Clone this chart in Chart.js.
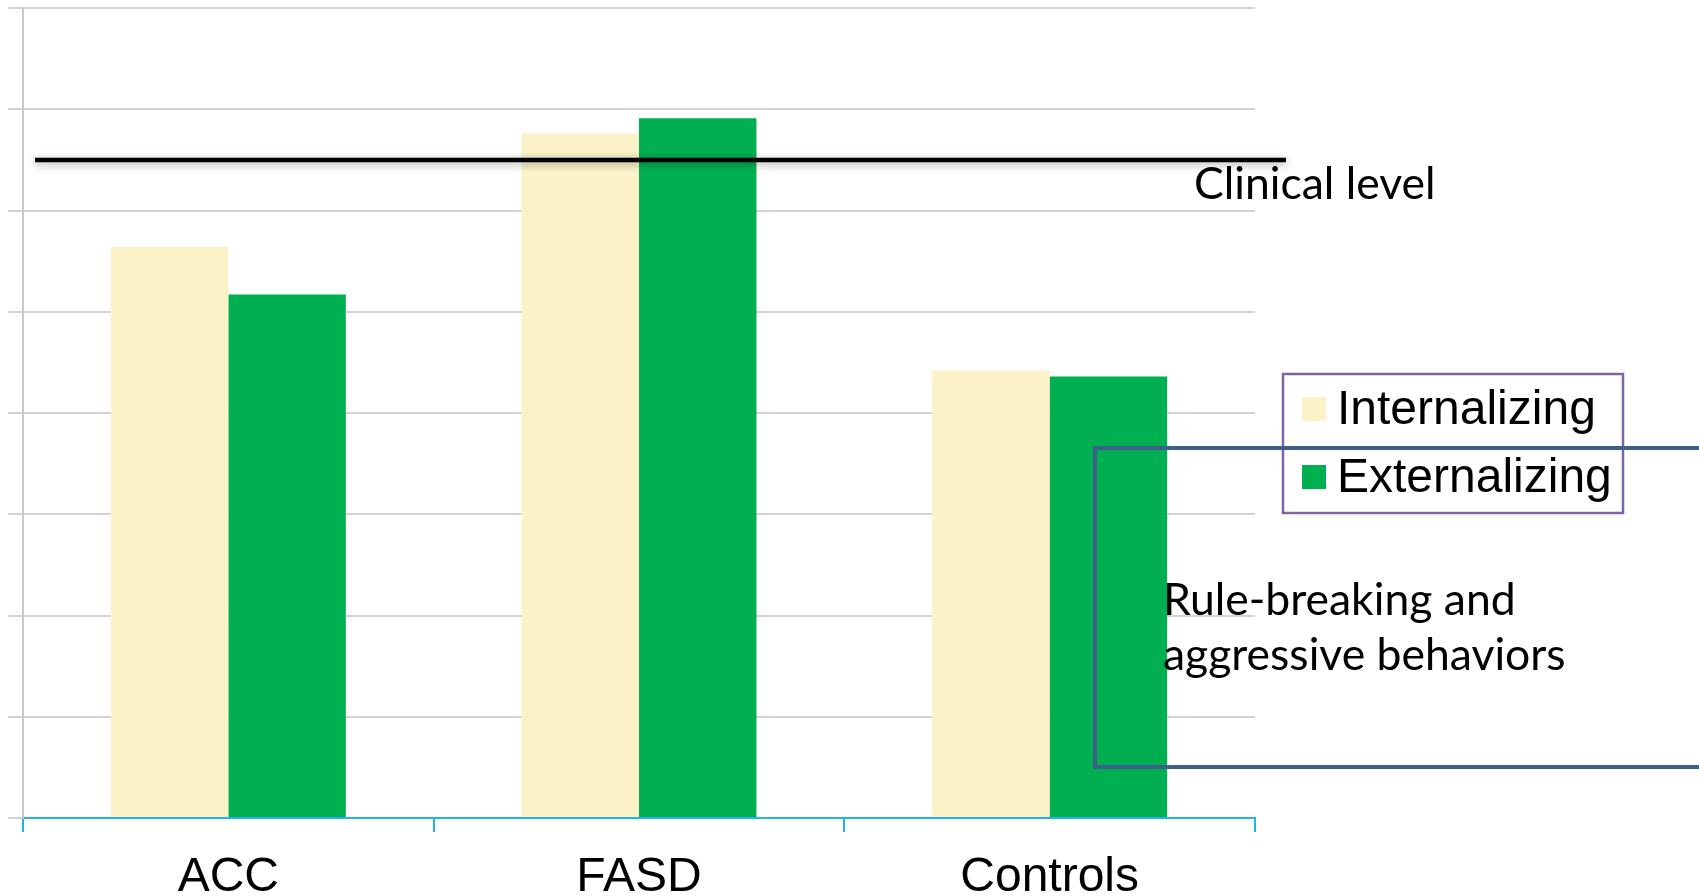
<!DOCTYPE html>
<html>
<head>
<meta charset="utf-8">
<script src="https://cdn.jsdelivr.net/npm/chart.js@4.4.1/dist/chart.umd.min.js"></script>
<style>
  html, body { margin: 0; padding: 0; background: #ffffff; }
  #wrap { width: 1699px; height: 896px; position: relative; }
</style>
</head>
<body>
<div id="wrap"><canvas id="chart"></canvas></div>
<script>
// Mean problem scores per group
const categories = ['ACC', 'FASD', 'Controls'];
const internalizing = [56.4, 67.6, 44.2];
const externalizing = [51.7, 69.1, 43.6];
const seriesLabels = ['Internalizing', 'Externalizing'];
const clinicalLevel = 65;
const clinicalLabel = 'Clinical level';
const noteLines = ['Rule-breaking and', 'aggressive behaviors'];
const yMin = 0, yMax = 80, yStep = 10;

const creamFill = '#FBF3C7';
const greenFill = '#00B050';
const noteFont = 'Lato, "Open Sans", sans-serif';

// Overlays: clinical threshold line, its caption, the legend box and the callout frame
const overlays = {
  id: 'overlays',
  afterDraw(chart) {
    const ctx = chart.ctx;
    const y = chart.scales.y.getPixelForValue(clinicalLevel);

    // threshold line with a soft shadow
    ctx.save();
    ctx.shadowColor = 'rgba(0,0,0,0.38)';
    ctx.shadowBlur = 9;
    ctx.shadowOffsetY = 2;
    ctx.strokeStyle = '#000000';
    ctx.lineWidth = 4.5;
    ctx.beginPath();
    ctx.moveTo(35, y);
    ctx.lineTo(1286, y);
    ctx.stroke();
    ctx.restore();

    ctx.save();
    ctx.fillStyle = '#000000';
    ctx.textBaseline = 'alphabetic';
    ctx.textAlign = 'left';
    ctx.font = '44.5px ' + noteFont;
    ctx.fillText(clinicalLabel, 1194, y + 39);
    ctx.restore();

    // legend
    ctx.save();
    ctx.strokeStyle = '#8064A2';
    ctx.lineWidth = 2.5;
    ctx.strokeRect(1283, 374, 340, 139);
    ctx.font = '48px "Liberation Sans", Arial, sans-serif';
    ctx.textBaseline = 'alphabetic';
    chart.data.datasets.forEach((ds, i) => {
      const rowY = 397 + i * 68;
      ctx.fillStyle = ds.backgroundColor;
      ctx.fillRect(1302, rowY, 24, 24);
      ctx.fillStyle = '#000000';
      ctx.fillText(ds.label, 1337, rowY + 27);
    });
    ctx.restore();

    // callout frame running off the right edge
    ctx.save();
    ctx.strokeStyle = '#3E5E8B';
    ctx.lineWidth = 4;
    ctx.strokeRect(1095, 448, 700, 319);
    ctx.fillStyle = '#000000';
    ctx.font = '44.5px ' + noteFont;
    ctx.textBaseline = 'alphabetic';
    noteLines.forEach((t, i) => ctx.fillText(t, 1163, 615 + i * 55));
    ctx.restore();
  }
};

new Chart(document.getElementById('chart'), {
  type: 'bar',
  data: {
    labels: categories,
    datasets: [
      { label: seriesLabels[0], data: internalizing, backgroundColor: creamFill,
        borderWidth: 0, categoryPercentage: 0.572, barPercentage: 1.0 },
      { label: seriesLabels[1], data: externalizing, backgroundColor: greenFill,
        borderWidth: 0, categoryPercentage: 0.572, barPercentage: 1.0 }
    ]
  },
  options: {
    responsive: true,
    maintainAspectRatio: false,
    animation: false,
    layout: { padding: { left: 8, top: 8, right: 444, bottom: 0 } },
    plugins: {
      legend: { display: false },
      tooltip: { enabled: false },
      title: { display: false }
    },
    scales: {
      x: {
        z: 1,
        grid: { display: true, drawOnChartArea: false, drawTicks: true, tickLength: 14,
                color: '#1FB4EC', lineWidth: 2, offset: true },
        border: { display: true, color: '#1FB4EC', width: 2 },
        ticks: { color: '#000000', padding: 17,
                 font: { family: '"Liberation Sans", Arial, sans-serif', size: 48 } },
        afterFit(scale) { scale.height = 78; }
      },
      y: {
        min: yMin, max: yMax,
        ticks: { display: false, stepSize: yStep },
        grid: { color: '#D3D3D3', lineWidth: 2, tickLength: 15, drawTicks: true },
        border: { display: true, color: '#C9C9C9', width: 2 },
        afterFit(scale) { scale.width = 15; }
      }
    }
  },
  plugins: [overlays]
});
</script>
</body>
</html>
